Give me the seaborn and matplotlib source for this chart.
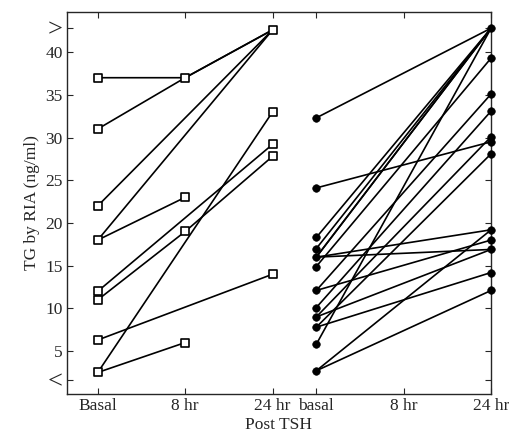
import numpy as np
import pandas as pd
import matplotlib
matplotlib.use("Agg")
import matplotlib.pyplot as plt
import seaborn as sns

# ---- data ----
x_labels = ["Basal", "8 hr", "24 hr", "basal", "8 hr", "24 hr"]
x_pos = [0, 1, 2, 2.5, 3.5, 4.5]

# left group (open squares): basal, 8 hr, 24 hr  (NaN = not measured)
left_basal = [37, 31, 22, 18, 18, 12, 11, 6.3, 2.5, 2.5]
left_8hr = [37, 37, np.nan, np.nan, 23, np.nan, 19, np.nan, np.nan, 6]
left_24hr = [42.6, 42.6, 42.6, 42.6, np.nan, 29.2, 27.8, 14, 33, np.nan]

# right group (filled circles): basal, 24 hr
right_basal = [32.3, 24.1, 18.3, 17.0, 16.0, 16.0, 16.0, 16.0, 14.9, 12.1,
               12.1, 10.1, 9.0, 9.0, 7.8, 7.8, 5.8, 2.7, 2.7]
right_24hr = [42.8, 29.5, 42.8, 42.8, 42.8, 42.8, 16.9, 19.2, 39.3, 35.1,
              18.0, 33.1, 30.1, 16.9, 28.1, 14.2, 42.8, 19.2, 12.1]

y_ticks = [5, 10, 15, 20, 25, 30, 35, 40]

# ---- long form ----
rows = []
for i, vals in enumerate(zip(left_basal, left_8hr, left_24hr)):
    for p, v in zip(x_pos[:3], vals):
        if not np.isnan(v):
            rows.append(dict(subj=f"L{i}", pos=p, tg=v))
dfl = pd.DataFrame(rows)
rows = []
for i, vals in enumerate(zip(right_basal, right_24hr)):
    for p, v in zip([x_pos[3], x_pos[5]], vals):
        rows.append(dict(subj=f"R{i}", pos=p, tg=v))
dfr = pd.DataFrame(rows)

sns.set_style("ticks")
plt.rcParams['font.family'] = ['Liberation Serif', 'DejaVu Serif']

fig = plt.figure(figsize=(5.1, 4.42), dpi=100)
ax = fig.add_axes([0.131, 0.109, 0.832, 0.864])

sns.lineplot(data=dfl, x="pos", y="tg", units="subj", estimator=None,
             color="black", lw=1.2, ax=ax, legend=False, sort=False)
sns.lineplot(data=dfr, x="pos", y="tg", units="subj", estimator=None,
             color="black", lw=1.2, ax=ax, legend=False, sort=False)
sns.scatterplot(data=dfl.drop_duplicates(["pos", "tg"]), x="pos", y="tg",
                marker="s", s=30, facecolor="white", edgecolor="black",
                linewidth=1.2, ax=ax, zorder=5, clip_on=False, legend=False)
sns.scatterplot(data=dfr.drop_duplicates(["pos", "tg"]), x="pos", y="tg",
                marker="o", s=30, color="black", edgecolor="black",
                ax=ax, zorder=5, clip_on=False, legend=False)

ax.set_xlim(-0.354, 4.5)
ax.set_ylim(0, 44.7)
ax.set_xticks(x_pos)
ax.set_xticklabels(x_labels, fontsize=12.5)
ax.set_yticks(y_ticks + [42.8, 1.6])
ax.set_yticklabels([str(t) for t in y_ticks] + [">", "<"], fontsize=12.5)
for lab in ax.get_yticklabels()[-2:]:
    lab.set_fontsize(19)
ax.tick_params(direction="in", length=4, width=0.8, right=True, top=True,
               labelright=False, labeltop=False, pad=3)
for s in ax.spines.values():
    s.set_linewidth(1.0)
ax.set_xlabel("Post TSH", fontsize=12.5, labelpad=2)
ax.set_ylabel("TG by RIA (ng/ml)", fontsize=12.5, labelpad=4)

fig.savefig("out.png", dpi=100)
